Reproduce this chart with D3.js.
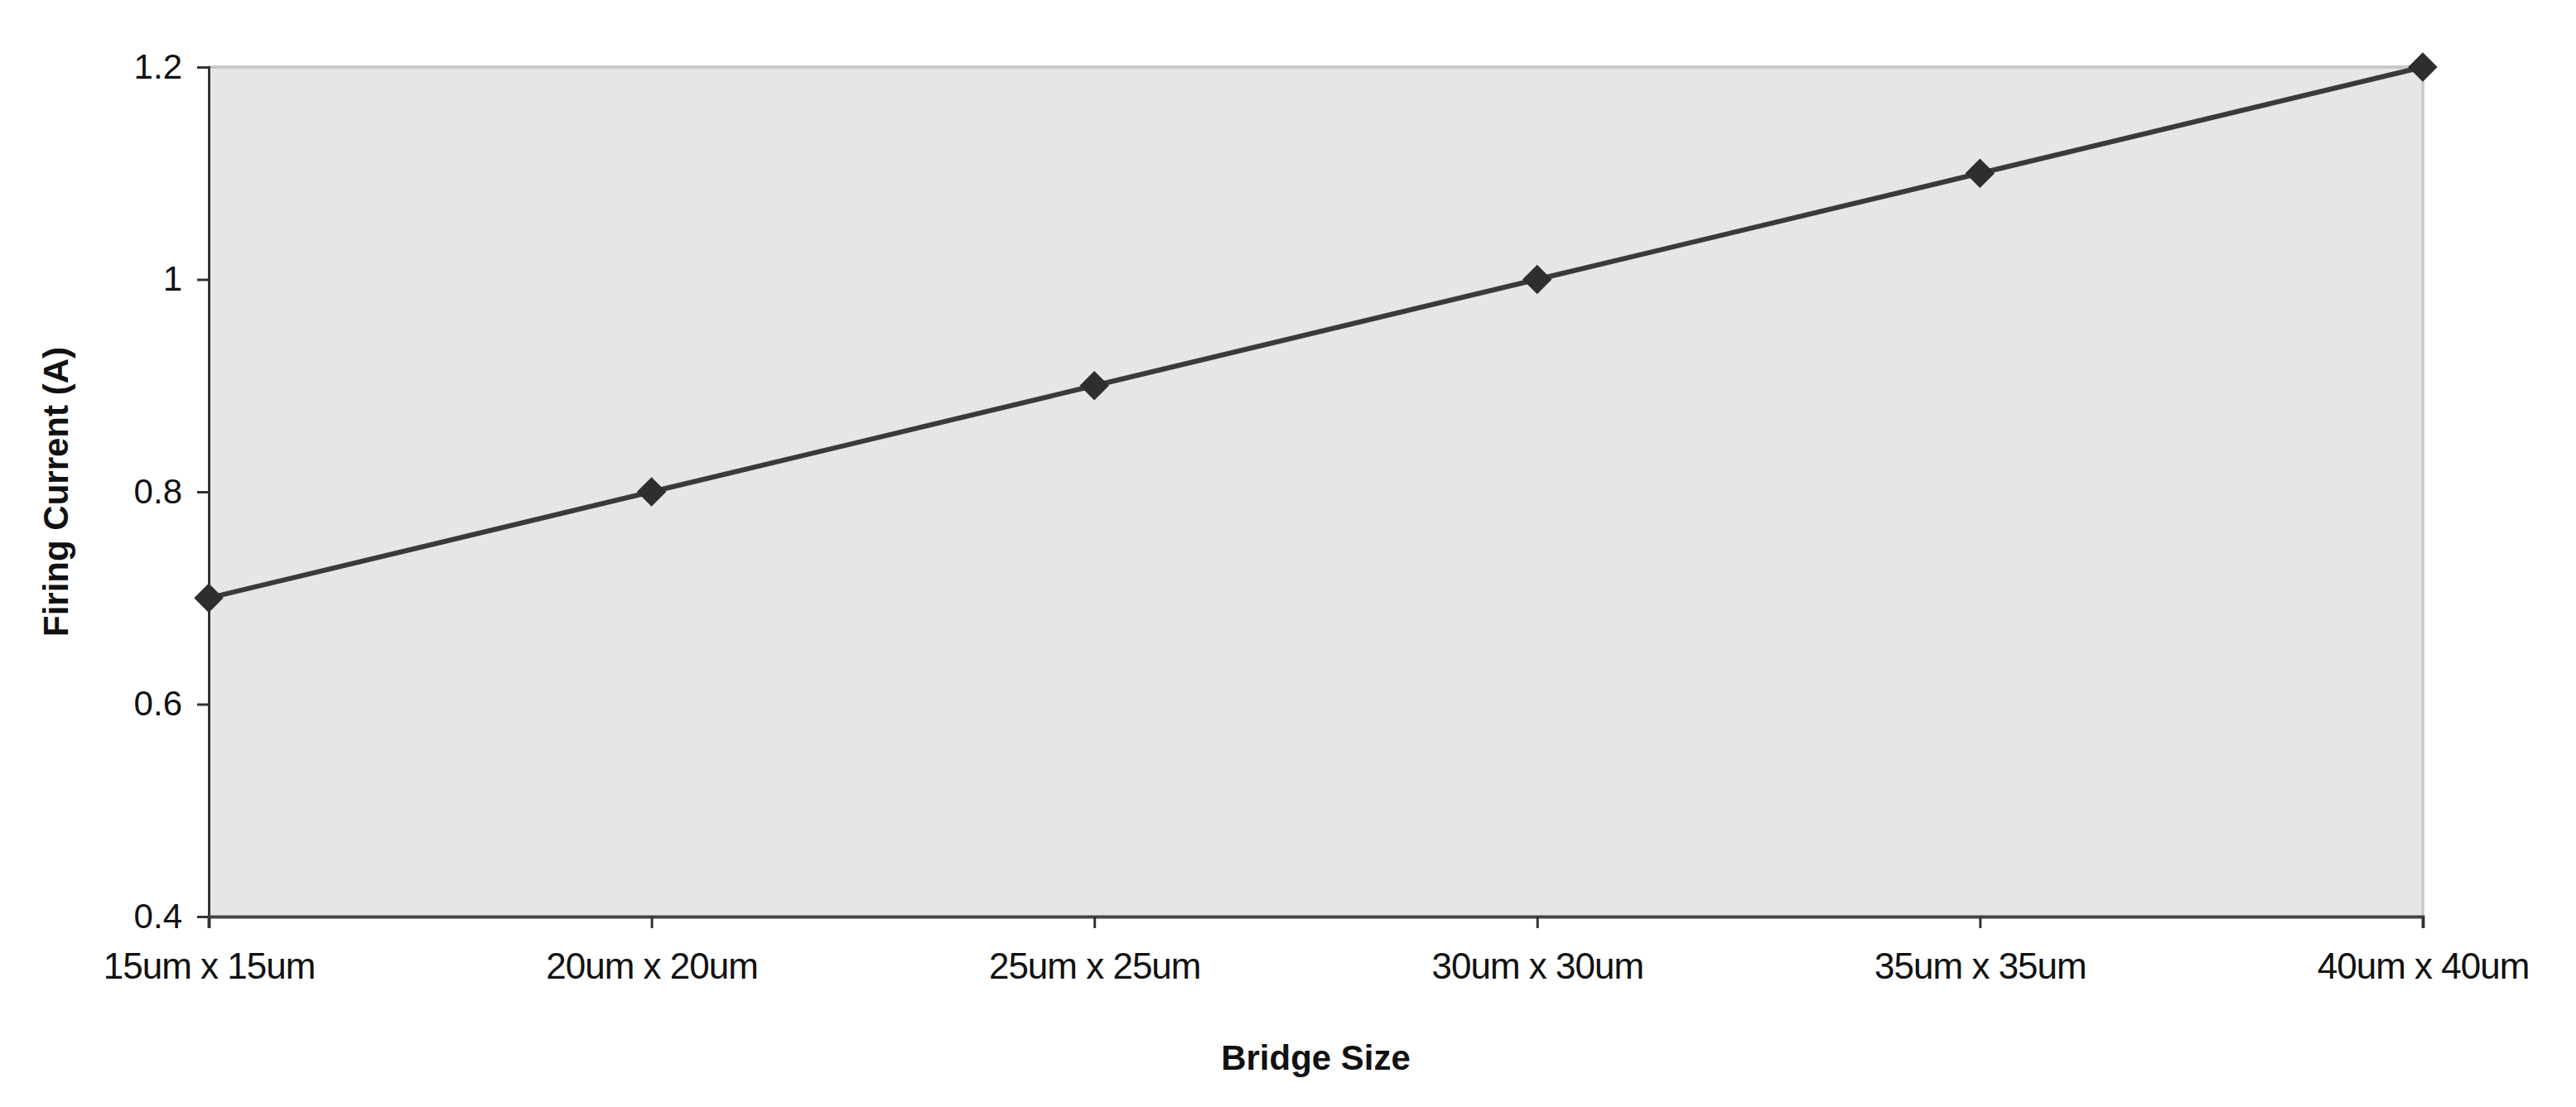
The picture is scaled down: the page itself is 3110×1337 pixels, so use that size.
<!DOCTYPE html><html><head><meta charset="utf-8"><script src="https://cdn.jsdelivr.net/npm/d3@7"></script>
<style>body{margin:0;background:#fff}</style></head><body><svg id="c" width="3110" height="1337"></svg>
<script>
const categories=["15um x 15um","20um x 20um","25um x 25um","30um x 30um","35um x 35um","40um x 40um"];
const values=[0.7,0.8,0.9,1.0,1.1,1.2];
const yTicks=[0.4,0.6,0.8,1,1.2];
const m={l:252,t:81,r:2925,b:1107};
const svg=d3.select("#c");
const x=d3.scalePoint().domain(categories).range([m.l,m.r]);
const y=d3.scaleLinear().domain([0.4,1.2]).range([m.b,m.t]);
svg.append("rect").attr("x",m.l).attr("y",m.t).attr("width",m.r-m.l).attr("height",m.b-m.t).attr("fill","#e6e6e6");
svg.append("line").attr("x1",m.l).attr("x2",m.r).attr("y1",m.t).attr("y2",m.t).attr("stroke","#c8c8c8").attr("stroke-width",4);
svg.append("line").attr("x1",m.r).attr("x2",m.r).attr("y1",m.t).attr("y2",m.b).attr("stroke","#cccccc").attr("stroke-width",4);
const font="Liberation Sans, Arial, sans-serif";
const ya=svg.append("g").attr("transform",`translate(${m.l},0)`).call(d3.axisLeft(y).tickValues(yTicks).tickFormat(d=>String(d)).tickSize(14).tickPadding(18));
const xa=svg.append("g").attr("transform",`translate(0,${m.b})`).call(d3.axisBottom(x).tickSize(14).tickPadding(30));
[ya,xa].forEach(g=>{g.selectAll("path,line").attr("stroke","#333").attr("stroke-width",3);g.selectAll("text").attr("font-family",font).attr("font-size",42).attr("fill","#111");});
xa.selectAll("text").attr("font-size",44).attr("letter-spacing",-1);
xa.select(".domain").attr("stroke","#444").attr("stroke-width",4);
svg.append("path").datum(values).attr("d",d3.line().x((d,i)=>x(categories[i])).y(d=>y(d))).attr("fill","none").attr("stroke","#3a3a3a").attr("stroke-width",6);
svg.selectAll(".pt").data(values).join("path").attr("d",d3.symbol(d3.symbolDiamond2,800)()).attr("transform",(d,i)=>`translate(${x(categories[i])},${y(d)})`).attr("fill","#2e2e2e");
svg.append("text").attr("x",(m.l+m.r)/2).attr("y",1292).attr("text-anchor","middle").attr("font-family",font).attr("font-weight","bold").attr("font-size",42).attr("fill","#111").text("Bridge Size");
svg.append("text").attr("transform",`translate(82,${(m.t+m.b)/2}) rotate(-90)`).attr("text-anchor","middle").attr("font-family",font).attr("font-weight","bold").attr("font-size",42).attr("fill","#111").text("Firing Current (A)");
</script></body></html>
